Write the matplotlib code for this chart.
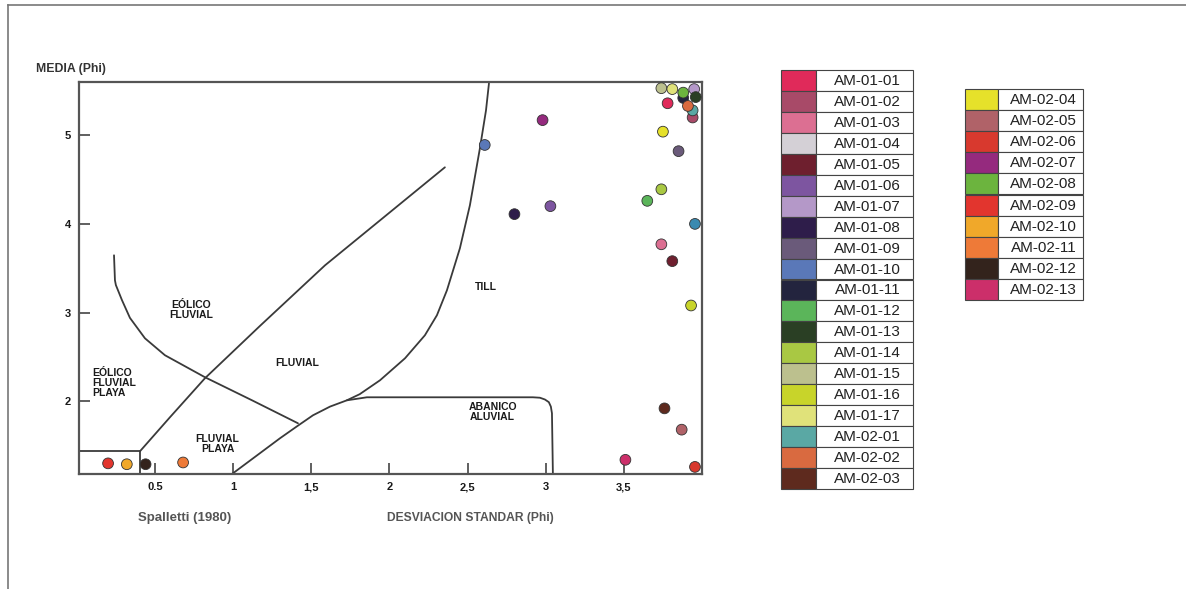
import matplotlib
matplotlib.use('Agg')
import matplotlib.pyplot as plt
from matplotlib.patches import Rectangle
from matplotlib.lines import Line2D

plt.rcParams['font.family'] = ['Liberation Sans', 'DejaVu Sans']

# sample names and colours (legend order)
samples = ['AM-01-01', 'AM-01-02', 'AM-01-03', 'AM-01-04', 'AM-01-05', 'AM-01-06',
           'AM-01-07', 'AM-01-08', 'AM-01-09', 'AM-01-10', 'AM-01-11', 'AM-01-12',
           'AM-01-13', 'AM-01-14', 'AM-01-15', 'AM-01-16', 'AM-01-17', 'AM-02-01',
           'AM-02-02', 'AM-02-03', 'AM-02-04', 'AM-02-05', 'AM-02-06', 'AM-02-07',
           'AM-02-08', 'AM-02-09', 'AM-02-10', 'AM-02-11', 'AM-02-12', 'AM-02-13']
colors = ['#e02a5a', '#a84a68', '#dc6f92', '#d4d0d6', '#6e1f2e', '#7d55a0',
          '#b498c8', '#2e1d4a', '#6a5a7a', '#5a78b8', '#23243e', '#5bb55a',
          '#2a3f24', '#a9c843', '#bcc08e', '#c8d42a', '#e0e27a', '#5aa8a4',
          '#d96a40', '#5e2a1e', '#e6e12a', '#b06268', '#d8392e', '#952a7e',
          '#6cb43e', '#e2352e', '#f0a82a', '#ee7a38', '#33231c', '#cc2f6a']

# desviacion standar (x) and media (y) in phi
desv = [3.78, 3.94, 3.74, 3.955, 3.81, 3.03, 3.95, 2.80, 3.85, 2.61, 3.88, 3.65,
        3.96, 3.74, 3.74, 3.93, 3.81, 3.94, 3.91, 3.76, 3.75, 3.87, 3.955, 2.98,
        3.88, 0.20, 0.32, 0.68, 0.44, 3.51]
media = [5.36, 5.20, 3.77, 4.00, 3.58, 4.20, 5.52, 4.11, 4.82, 4.89, 5.42, 4.26,
         5.43, 4.39, 5.53, 3.08, 5.52, 5.28, 5.33, 1.92, 5.04, 1.68, 1.26, 5.17,
         5.48, 1.30, 1.29, 1.31, 1.29, 1.34]
point_colors = list(colors)
point_colors[3] = '#3a8ab0'  # this dot shows up blue in the scan

# field boundaries (Spalletti 1980)
box_x = [0.0, 0.404, 0.404]
box_y = [1.436, 1.436, 1.18]
diag_x = [0.404, 0.596, 0.82, 1.172, 1.588, 1.94, 2.355]
diag_y = [1.436, 1.82, 2.26, 2.85, 3.533, 4.04, 4.638]
eolico_x = [0.238, 0.244, 0.25, 0.289, 0.34, 0.436, 0.564, 0.692, 0.82, 1.121, 1.415]
eolico_y = [3.646, 3.364, 3.31, 3.14, 2.94, 2.71, 2.519, 2.395, 2.271, 2.011, 1.752]
abanico_x = [0.993, 1.30, 1.409, 1.511, 1.62, 1.728, 1.856, 2.918, 2.963, 2.995,
             3.02, 3.033, 3.040, 3.046]
abanico_y = [1.18, 1.583, 1.718, 1.842, 1.94, 2.011, 2.045, 2.045, 2.04, 2.02,
             1.99, 1.94, 1.865, 1.18]
till_x = [1.728, 1.81, 1.94, 2.10, 2.227, 2.304, 2.368, 2.451, 2.515, 2.579,
          2.618, 2.637]
till_y = [2.011, 2.08, 2.237, 2.485, 2.744, 2.97, 3.251, 3.725, 4.21, 4.852,
          5.28, 5.585]

xticks = [0.5, 1, 1.5, 2, 2.5, 3, 3.5]
xticklabels = ['0.5', '1', '1,5', '2', '2,5', '3', '3,5']
yticks = [2, 3, 4, 5]

W, H = 1186, 589
fig = plt.figure(figsize=(W / 100, H / 100), dpi=100)
ax = fig.add_axes([79 / W, 1 - 474 / H, 623 / W, 392 / H])

line_col = '#3a3a3a'
for xs, ys in [(box_x, box_y), (diag_x, diag_y), (eolico_x, eolico_y),
               (abanico_x, abanico_y), (till_x, till_y)]:
    ax.plot(xs, ys, color=line_col, lw=1.3, solid_joinstyle='round',
            solid_capstyle='round')

ax.scatter(desv, media, s=60, c=point_colors, edgecolors='#333333',
           linewidths=0.6, zorder=5, clip_on=False)

lab = dict(fontsize=7.5, fontweight='bold', color='#1a1a1a', linespacing=1.0,
           family=['Liberation Sans Narrow', 'Liberation Sans', 'DejaVu Sans'])
ax.text(0.73, 3.03, 'EÓLICO\nFLUVIAL', ha='center', va='center', **lab)
ax.text(0.10, 2.21, 'EÓLICO\nFLUVIAL\nPLAYA', ha='left', va='center', **lab)
ax.text(1.41, 2.43, 'FLUVIAL', ha='center', va='center', **lab)
ax.text(0.90, 1.52, 'FLUVIAL\nPLAYA', ha='center', va='center', **lab)
ax.text(2.62, 3.285, 'TILL', ha='center', va='center', **lab)
ax.text(2.66, 1.88, 'ABANICO\nALUVIAL', ha='center', va='center', **lab)

ax.set_xlim(0.014, 4.0)
ax.set_ylim(1.18, 5.6)
ax.set_xticks(xticks)
ax.set_xticklabels(xticklabels)
ax.set_yticks(yticks)
ax.tick_params(direction='in', length=8, width=1.2, color='#444444',
               labelsize=8, pad=6, labelcolor='#1a1a1a')
for t in ax.get_xticklabels() + ax.get_yticklabels():
    t.set_fontweight('bold')
for sp in ax.spines.values():
    sp.set_color('#555555')
    sp.set_linewidth(1.6)

# page overlay in pixel coordinates for the titles, legend and frame
ov = fig.add_axes([0, 0, 1, 1], zorder=-1)
ov.set_xlim(0, W)
ov.set_ylim(H, 0)
ov.axis('off')

ov.add_line(Line2D([8, W], [5, 5], color='#777777', lw=1.2))
ov.add_line(Line2D([8, 8], [5, H], color='#777777', lw=1.2))

ov.text(36, 69, 'MEDIA (Phi)', fontsize=8.8, fontweight='bold', color='#333333',
        va='center', ha='left')
ov.text(138, 518, 'Spalletti (1980)', fontsize=9.5, fontweight='bold',
        color='#555555', va='center', ha='left')
ov.text(387, 518, 'DESVIACION STANDAR (Phi)', fontsize=8.7, fontweight='bold',
        color='#555555', va='center', ha='left')

# legend tables
def legend_column(names, cols, x0, y0, row_h, sw_w, txt_w):
    for i, (name, col) in enumerate(zip(names, cols)):
        y = y0 + i * row_h
        ov.add_patch(Rectangle((x0, y), sw_w, row_h, facecolor=col,
                               edgecolor='#444444', lw=0.8))
        ov.add_patch(Rectangle((x0 + sw_w, y), txt_w, row_h, facecolor='white',
                               edgecolor='#444444', lw=0.8))
        ov.text(x0 + sw_w + txt_w / 2 + 3, y + row_h / 2 + 0.5, name,
                fontsize=11, color='#222222', ha='center', va='center')

legend_column(samples[:20], colors[:20], 781, 70, 20.95, 35, 97)
legend_column(samples[20:], colors[20:], 965, 89, 21.1, 33, 85)

fig.savefig('out.png', dpi=100)
